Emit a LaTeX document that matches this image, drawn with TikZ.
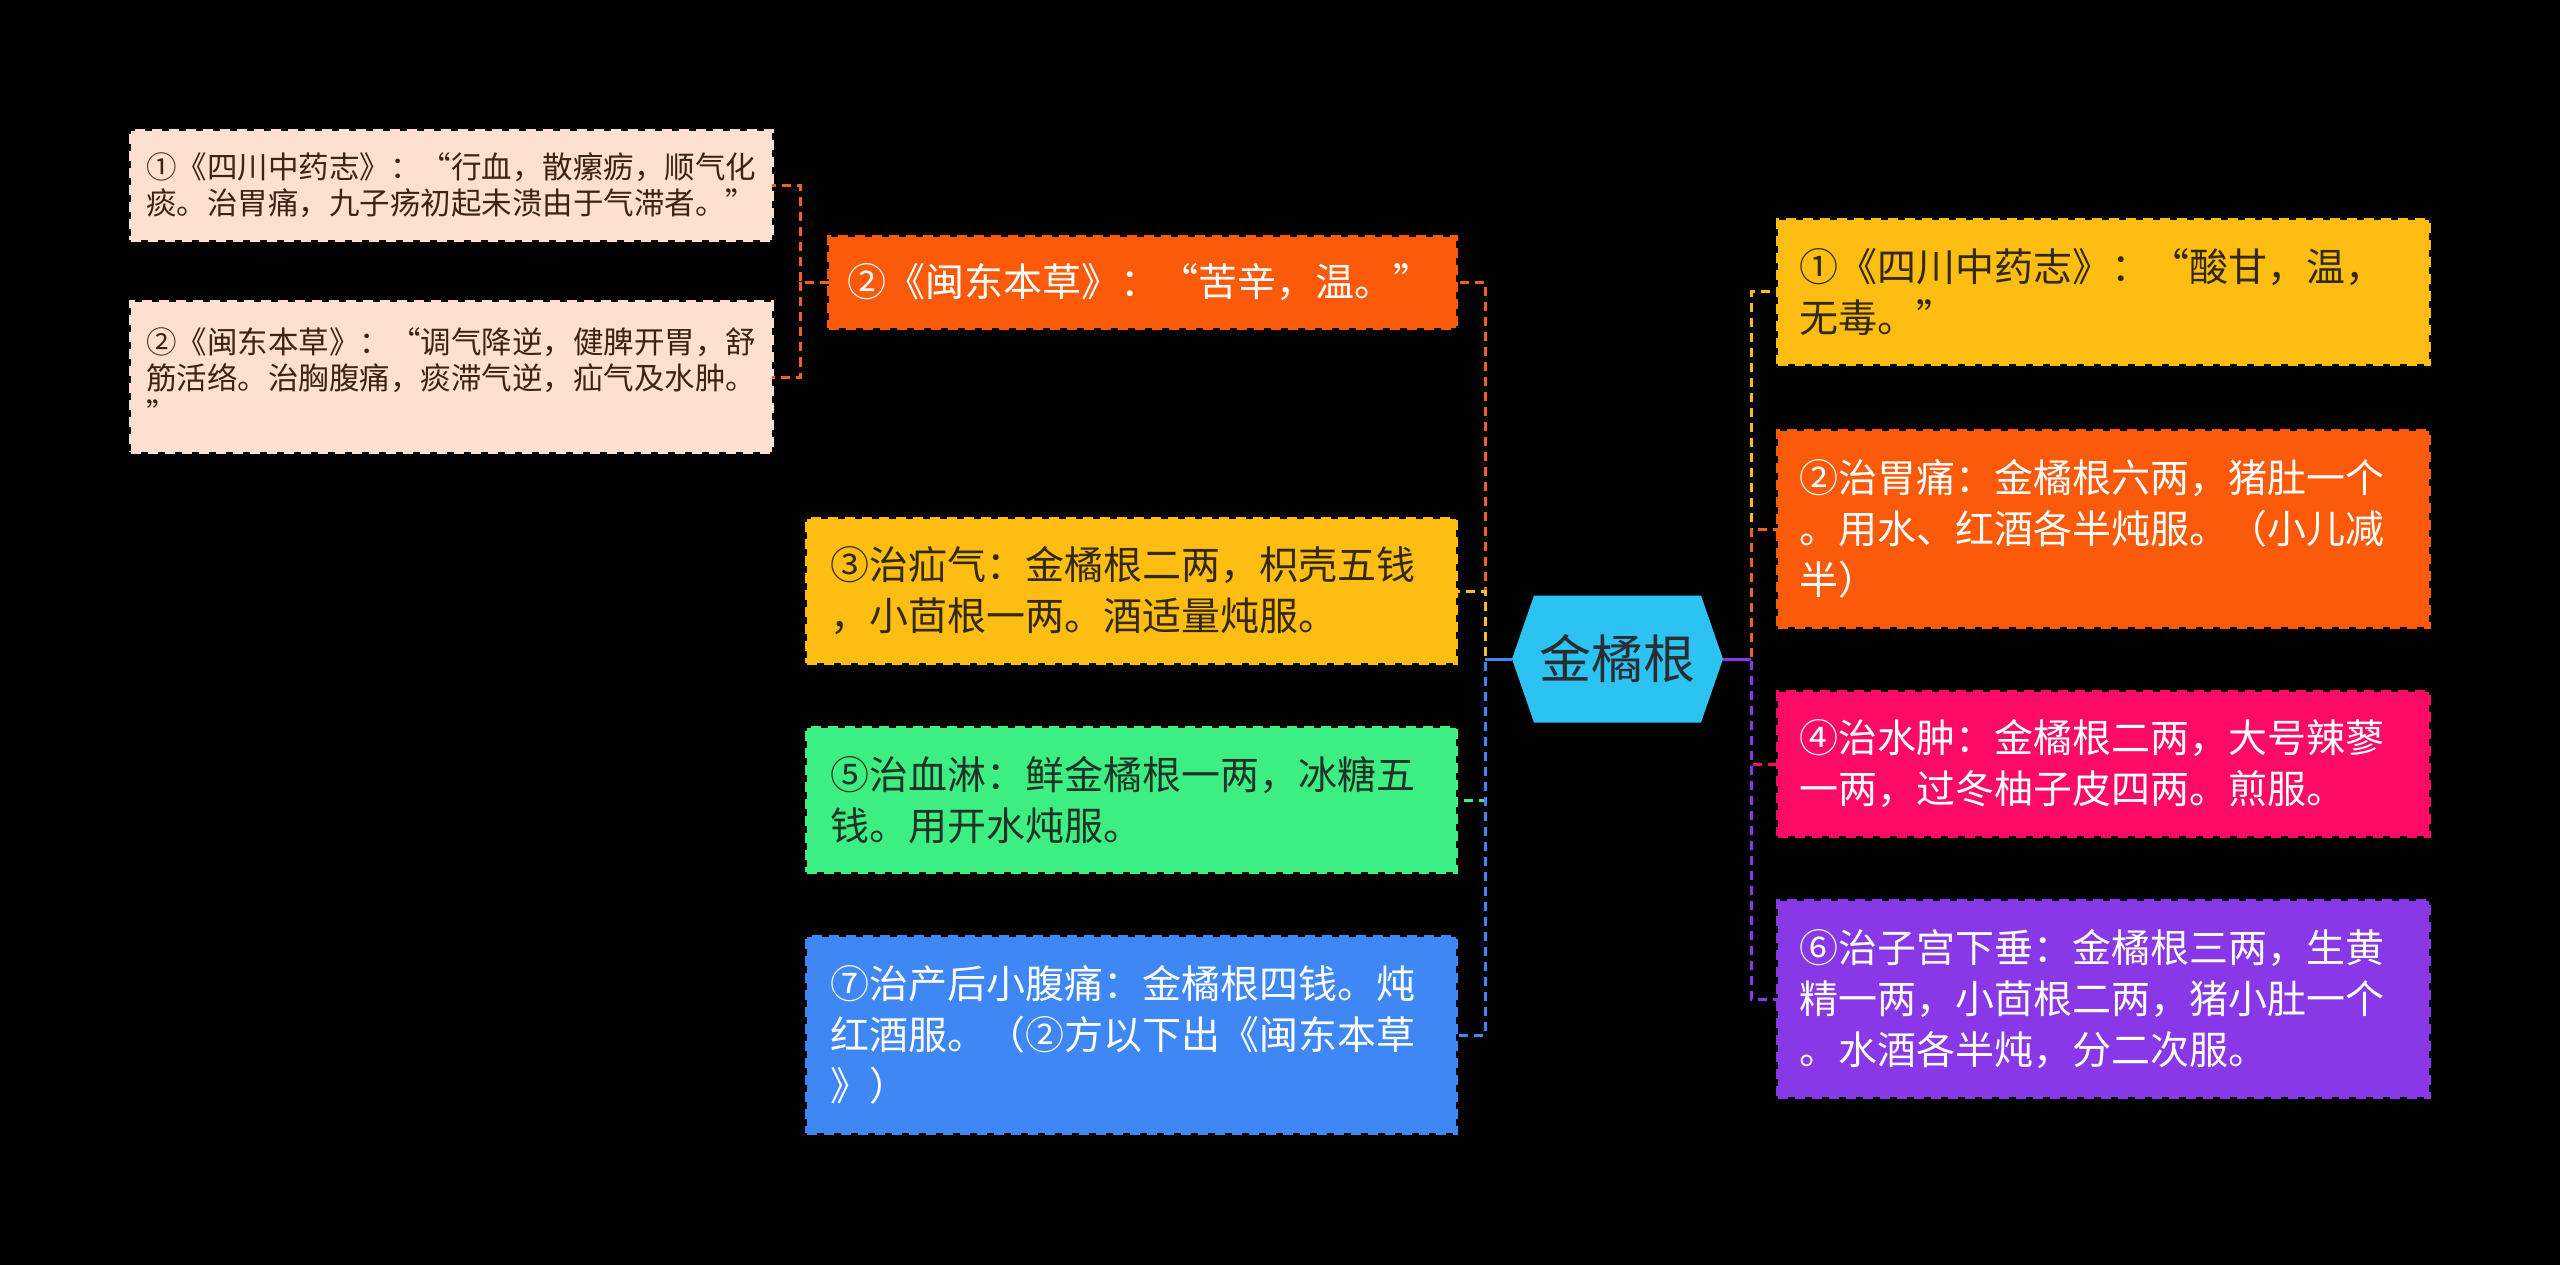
\documentclass[tikz,border=0pt]{standalone}
\usepackage{fontspec}
\setmainfont{Noto Sans CJK SC}
\usetikzlibrary{calc}
\definecolor{cPeach}{HTML}{FFE0D0}
\definecolor{tPeach}{HTML}{3C2314}
\definecolor{cOrg}{HTML}{FB5A0A}
\definecolor{cYel}{HTML}{FDBD13}
\definecolor{tYel}{HTML}{33290F}
\definecolor{cGrn}{HTML}{3DEF82}
\definecolor{tGrn}{HTML}{1F3326}
\definecolor{cBlu}{HTML}{3F87F5}
\definecolor{cCyan}{HTML}{2CC3F2}
\definecolor{tDark}{HTML}{2A2E33}
\definecolor{cPink}{HTML}{FC0A66}
\definecolor{cPur}{HTML}{8838E6}
\definecolor{lOrg}{HTML}{F0601E}
\tikzset{
  card/.style={rectangle, anchor=north west, align=left, inner ysep=0pt, outer sep=0pt,
    line width=4pt, dash pattern=on 10pt off 7pt},
  big/.style={font=\fontsize{39}{51}\selectfont},
  small/.style={font=\fontsize{30.5}{36}\selectfont},
  cline/.style={line width=3pt, dash pattern=on 9pt off 6pt},
  hexn/.style={rectangle, minimum width=211pt, minimum height=127pt, inner sep=0pt, outer sep=0pt,
    text=tDark, font=\fontsize{52}{60}\selectfont,
    path picture={\fill[cCyan] (path picture bounding box.west)
      -- ([xshift=22pt]path picture bounding box.north west)
      -- ([xshift=-22pt]path picture bounding box.north east)
      -- (path picture bounding box.east)
      -- ([xshift=-22pt]path picture bounding box.south east)
      -- ([xshift=22pt]path picture bounding box.south west) -- cycle;}}
}
\begin{document}
\begin{tikzpicture}[x=1pt,y=-1pt]
\fill[black] (0,0) rectangle (2560,1265);
\useasboundingbox (0,0) rectangle (2560,1265);

% root
\node[hexn] (root) at (1617.5,659) {金橘根};
\coordinate (tl) at (1485,659);
\coordinate (tr) at (1751,659);

% left peach boxes
\node[card, small, fill=cPeach, draw=cPeach, text=tPeach, inner xsep=15pt, text width=611pt, minimum height=109pt] (p1) at (131,131)
  {①《四川中药志》：“行血，散瘰疬，顺气化\\痰。治胃痛，九子疡初起未溃由于气滞者。”};
\node[card, small, fill=cPeach, draw=cPeach, text=tPeach, inner xsep=15pt, text width=611pt, minimum height=150pt] (p2) at (131,302)
  {②《闽东本草》：“调气降逆，健脾开胃，舒\\筋活络。治胸腹痛，痰滞气逆，疝气及水肿。\\”};

% left main boxes
\node[card, big, fill=cOrg, draw=cOrg, text=white, inner xsep=18pt, text width=591pt, minimum height=91pt] (o2) at (829,237)
  {②《闽东本草》：“苦辛，温。”};
\node[card, big, fill=cYel, draw=cYel, text=tYel, inner xsep=23pt, text width=603pt, minimum height=144pt] (y3) at (807,519)
  {③治疝气：金橘根二两，枳壳五钱\\，小茴根一两。酒适量炖服。};
\node[card, big, fill=cGrn, draw=cGrn, text=tGrn, inner xsep=23pt, text width=603pt, minimum height=144pt] (g5) at (807,728)
  {⑤治血淋：鲜金橘根一两，冰糖五\\钱。用开水炖服。};
\node[card, big, fill=cBlu, draw=cBlu, text=white, inner xsep=23pt, text width=603pt, minimum height=196pt] (b7) at (807,937)
  {⑦治产后小腹痛：金橘根四钱。炖\\红酒服。（②方以下出《闽东本草\\》）};

% right boxes
\node[card, big, fill=cYel, draw=cYel, text=tYel, inner xsep=21pt, text width=609pt, minimum height=144pt] (r1) at (1778,220)
  {①《四川中药志》：“酸甘，温，\\无毒。”};
\node[card, big, fill=cOrg, draw=cOrg, text=white, inner xsep=21pt, text width=609pt, minimum height=196pt] (r2) at (1778,431)
  {②治胃痛：金橘根六两，猪肚一个\\。用水、红酒各半炖服。（小儿减\\半）};
\node[card, big, fill=cPink, draw=cPink, text=white, inner xsep=21pt, text width=609pt, minimum height=144pt] (r4) at (1778,692)
  {④治水肿：金橘根二两，大号辣蓼\\一两，过冬柚子皮四两。煎服。};
\node[card, big, fill=cPur, draw=cPur, text=white, inner xsep=21pt, text width=609pt, minimum height=196pt] (r6) at (1778,901)
  {⑥治子宫下垂：金橘根三两，生黄\\精一两，小茴根二两，猪小肚一个\\。水酒各半炖，分二次服。};

% left connectors
\draw[cline, lOrg] (root.west) -- (tl) |- (o2.east);
\draw[cline, cYel] (root.west) -- (tl) |- (y3.east);
\draw[cline, cGrn] (root.west) -- (tl) |- (g5.east);
\draw[cline, cBlu] (root.west) -- (tl) |- (b7.east);
\draw[line width=3pt, cBlu] (root.west) -- (tl);

% right connectors
\draw[cline, cYel] (root.east) -- (tr) |- (r1.west);
\draw[cline, lOrg] (root.east) -- (tr) |- (r2.west);
\draw[cline, cPink] (root.east) -- (tr) |- (r4.west);
\draw[cline, cPur] (root.east) -- (tr) |- (r6.west);
\draw[line width=3pt, cPur] (root.east) -- (tr);

% sub connectors
\draw[cline, lOrg] (o2.west) -- ([xshift=-29pt]o2.west) coordinate (ts) |- (p1.east);
\draw[cline, lOrg] (ts) |- (p2.east);
\end{tikzpicture}
\end{document}
